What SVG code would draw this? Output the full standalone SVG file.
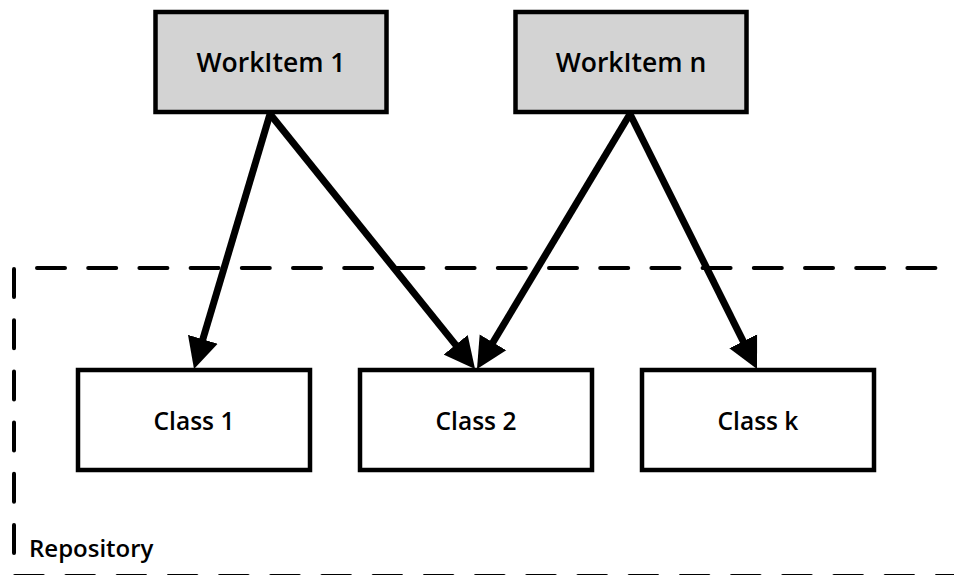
<svg xmlns="http://www.w3.org/2000/svg" width="954" height="575" viewBox="0 0 954 575">
  <style>
    .work rect { fill: #d3d3d3; stroke: #000; stroke-width: 4.5; }
    .cls rect { fill: #fff; stroke: #000; stroke-width: 4.5; }
    text { font-family: "Open Sans", "Liberation Sans", sans-serif; fill: #000; text-anchor: middle; font-weight: 600; }
    .wt { font-size: 26.5px; }
    .ct { font-size: 24.5px; }
    .rt { font-size: 24px; text-anchor: start; }
    .dash { stroke: #000; stroke-width: 4; stroke-linecap: round; stroke-dasharray: 28 23.2; fill: none; }
    .conn line { stroke: #000; stroke-width: 7; marker-end: url(#arr); }
  </style>
  <defs>
    <marker id="arr" viewBox="0 -16 31 32" refX="11" refY="0" markerWidth="31" markerHeight="32" markerUnits="userSpaceOnUse" orient="auto">
      <path d="M0,-15.5 L31,0 L0,15.5 Z" fill="#000"/>
    </marker>
  </defs>
  <rect width="954" height="575" fill="#fff"/>

  <g id="repository">
    <line class="dash" x1="37" y1="268" x2="940" y2="268"/>
    <line class="dash" x1="14" y1="269" x2="14" y2="556"/>
    <line class="dash" x1="15" y1="576" x2="954" y2="576"/>
    <text class="rt" x="29" y="557">Repository</text>
  </g>

  <g id="workitem1" class="work">
    <rect x="155.5" y="12" width="231" height="100"/>
    <text class="wt" x="271" y="72">WorkItem 1</text>
  </g>
  <g id="workitemn" class="work">
    <rect x="515.5" y="12" width="231" height="100"/>
    <text class="wt" x="631" y="72">WorkItem n</text>
  </g>

  <g id="class1" class="cls">
    <rect x="78" y="370" width="232" height="100"/>
    <text class="ct" x="194" y="430">Class 1</text>
  </g>
  <g id="class2" class="cls">
    <rect x="360" y="370" width="232" height="100"/>
    <text class="ct" x="476" y="430">Class 2</text>
  </g>
  <g id="classk" class="cls">
    <rect x="642" y="370" width="232" height="100"/>
    <text class="ct" x="758" y="430">Class k</text>
  </g>

  <g id="connectors" class="conn">
    <line x1="270" y1="114" x2="199.7" y2="349.8"/>
    <line x1="270" y1="114" x2="462.5" y2="353.4"/>
    <line x1="630" y1="114" x2="487.3" y2="351.8"/>
    <line x1="630" y1="114" x2="748.1" y2="351.1"/>
  </g>
</svg>
